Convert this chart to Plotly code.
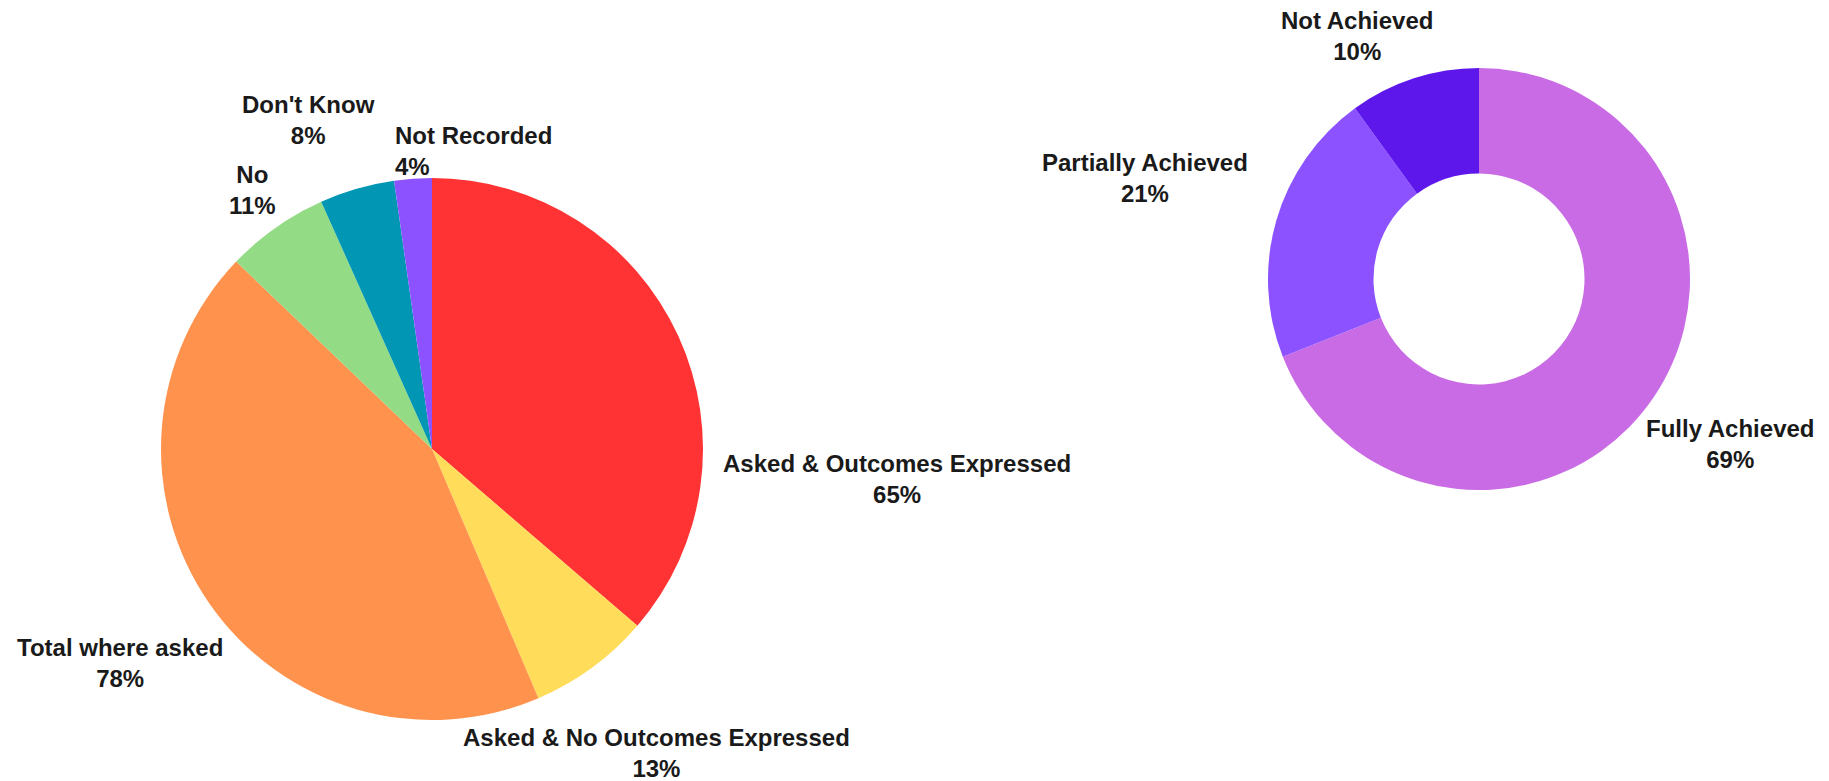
import plotly.graph_objects as go

# Left pie: response categories and their percentages
resp_labels = ["Asked & Outcomes Expressed", "Asked & No Outcomes Expressed",
               "Total where asked", "No", "Don't Know", "Not Recorded"]
resp_values = [65, 13, 78, 11, 8, 4]
resp_colors = ["#FF3333", "#FFDC5A", "#FF934D", "#93DC85", "#0096B4", "#8C52FF"]

# Right donut: outcome achievement
ach_labels = ["Fully Achieved", "Partially Achieved", "Not Achieved"]
ach_values = [69, 21, 10]
ach_colors = ["#C96BE4", "#8C52FF", "#5E17EB"]

W, H = 1829, 781
FONT = dict(family="Liberation Sans, Arial, sans-serif", size=24, color="#1a1a1a")

# label anchor points (pixels) and alignment for each slice label
resp_label_pos = [(897, 479, "center"), (656, 753, "center"), (120, 663, "center"),
                  (252, 190, "center"), (308, 120, "center"), (393, 151, "left")]
ach_label_pos = [(1730, 444, "center"), (1145, 178, "center"), (1357, 36, "center")]


def px_domain(cx, cy, r):
    return dict(x=[(cx - r) / W, (cx + r) / W], y=[1 - (cy + r) / H, 1 - (cy - r) / H])


fig = go.Figure()
fig.add_trace(go.Pie(
    labels=resp_labels, values=resp_values, sort=False, direction="clockwise",
    rotation=0, marker=dict(colors=resp_colors, line=dict(width=0)),
    textinfo="none", hoverinfo="label+value", showlegend=False,
    domain=px_domain(432, 449, 271),
))
fig.add_trace(go.Pie(
    labels=ach_labels, values=ach_values, sort=False, direction="clockwise",
    rotation=0, hole=0.5, marker=dict(colors=ach_colors, line=dict(width=0)),
    textinfo="none", hoverinfo="label+value", showlegend=False,
    domain=px_domain(1479, 279, 211),
))

annotations = []
for labels, values, positions in ((resp_labels, resp_values, resp_label_pos),
                                  (ach_labels, ach_values, ach_label_pos)):
    for lab, val, (x, y, al) in zip(labels, values, positions):
        annotations.append(dict(
            text=f"<b>{lab}</b><br><b>{val}%</b>", x=x / W, y=1 - y / H,
            xref="paper", yref="paper", xanchor=al, yanchor="middle",
            align=al, showarrow=False, font=FONT,
        ))

fig.update_layout(
    width=W, height=H, margin=dict(l=0, r=0, t=0, b=0),
    paper_bgcolor="white", plot_bgcolor="white",
    annotations=annotations,
)

fig.write_html("out.html")
